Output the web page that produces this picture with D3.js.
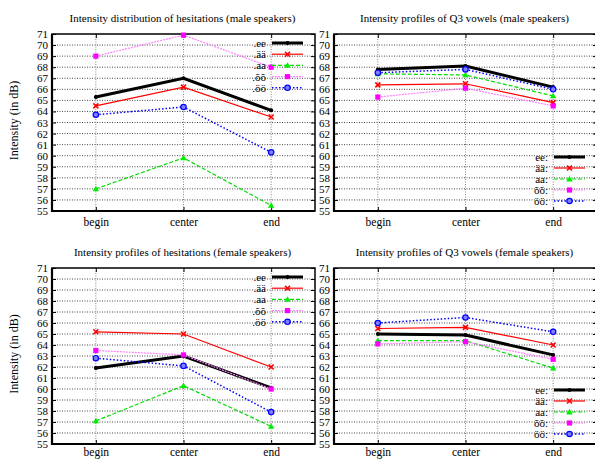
<!DOCTYPE html>
<html><head><meta charset="utf-8">
<script src="https://cdn.jsdelivr.net/npm/d3@7"></script>
<style>
html,body{margin:0;padding:0;background:#fff;}
svg{display:block;font-family:"Liberation Serif","DejaVu Serif",serif;}
</style></head>
<body><svg id="c" width="595" height="459"></svg>
<script>
const categories = ["begin", "center", "end"];
const yTicks = [55,56,57,58,59,60,61,62,63,64,65,66,67,68,69,70,71];
const hesLabels = [".ee", ".ää", ".aa", ".õõ", ".öö"];
const q3Labels = ["ee:", "ää:", "aa:", "õõ:", "öö:"];
const titles = [
  "Intensity distribution of hesitations (male speakers)",
  "Intensity profiles of Q3 vowels (male speakers)",
  "Intensity profiles of hesitations (female speakers)",
  "Intensity profiles of Q3 vowels (female speakers)"
];
// values per series (ee, ää, aa, õõ, öö) at begin/center/end
const maleHesitations = [
  [65.3, 67.0, 64.1],
  [64.5, 66.2, 63.5],
  [57.0, 59.8, 55.5],
  [69.0, 70.9, 68.0],
  [63.7, 64.4, 60.3]
];
const maleQ3 = [
  [67.8, 68.1, 66.2],
  [66.4, 66.5, 64.8],
  [67.4, 67.3, 65.4],
  [65.3, 66.1, 64.5],
  [67.5, 67.8, 66.0]
];
const femaleHesitations = [
  [61.9, 63.0, 60.1],
  [65.2, 65.0, 62.0],
  [57.1, 60.3, 56.6],
  [63.5, 63.1, 60.0],
  [62.8, 62.1, 57.9]
];
const femaleQ3 = [
  [65.0, 64.9, 63.1],
  [65.5, 65.6, 64.0],
  [64.4, 64.4, 61.9],
  [64.1, 64.3, 62.7],
  [66.0, 66.5, 65.2]
];

const styles = [
  {line:"#000000", mark:"#000000", w:3,   dash:null,  shape:"plus"},
  {line:"#ff0000", mark:"#ff0000", w:1.2, dash:null,  shape:"cross"},
  {line:"#00dd00", mark:"#00ee00", w:1.2, dash:"4,2", shape:"tri"},
  {line:"#ff80ff", mark:"#ff00ff", w:1.2, dash:"2,1", shape:"square"},
  {line:"#0000ff", mark:"#0000ff", w:1.5, dash:"1.5,2", shape:"circle"}
];

const svg = d3.select("#c");
const panels = [
  {x0:52,  x1:315, y0:34,  y1:211, data:maleHesitations,  labels:hesLabels, title:titles[0], ylab:true,  leg:"top",    xpad:7},
  {x0:334, x1:597, y0:34,  y1:211, data:maleQ3,           labels:q3Labels,  title:titles[1], ylab:false, leg:"bottom", xpad:7},
  {x0:52,  x1:315, y0:268, y1:444, data:femaleHesitations,labels:hesLabels, title:titles[2], ylab:true,  leg:"top",    xpad:4},
  {x0:334, x1:597, y0:268, y1:444, data:femaleQ3,         labels:q3Labels,  title:titles[3], ylab:false, leg:"bottom", xpad:4}
];

function marker(g, shape, cx, cy, col){
  if(shape==="plus"){
    g.append("circle").attr("cx",cx).attr("cy",cy).attr("r",2).attr("fill",col);
  } else if(shape==="cross"){
    const s=2.5;
    g.append("path").attr("d",`M${cx-s},${cy-s}L${cx+s},${cy+s}M${cx-s},${cy+s}L${cx+s},${cy-s}`)
      .attr("stroke",col).attr("stroke-width",1.6).attr("fill","none");
  } else if(shape==="tri"){
    const s=3.2;
    g.append("path").attr("d",`M${cx},${cy-s}L${cx+s},${cy+s*0.75}L${cx-s},${cy+s*0.75}Z`).attr("fill",col);
  } else if(shape==="square"){
    g.append("rect").attr("x",cx-2.6).attr("y",cy-2.6).attr("width",5.2).attr("height",5.2).attr("fill",col);
  } else if(shape==="circle"){
    g.append("circle").attr("cx",cx).attr("cy",cy).attr("r",2.7).attr("fill","#8080ff").attr("stroke",col).attr("stroke-width",1.2);
  }
}

panels.forEach(p=>{
  const x = d3.scalePoint().domain(categories).range([p.x0,p.x1]).padding(0.5);
  const y = d3.scaleLinear().domain([55,71]).range([p.y1,p.y0]);
  const g = svg.append("g");

  // horizontal grid
  g.selectAll(".hg").data(yTicks.slice(1,-1)).join("line")
    .attr("x1",p.x0).attr("x2",p.x1).attr("y1",d=>y(d)).attr("y2",d=>y(d))
    .attr("stroke","#333").attr("stroke-width",0.9).attr("stroke-dasharray","1,1.5");
  // vertical grid
  g.selectAll(".vg").data(categories).join("line")
    .attr("x1",d=>x(d)).attr("x2",d=>x(d)).attr("y1",p.y0).attr("y2",p.y1)
    .attr("stroke","#777").attr("stroke-width",0.9).attr("stroke-dasharray","1,1.5");

  // y axis
  const ya = g.append("g").attr("transform",`translate(${p.x0},0)`)
    .call(d3.axisLeft(y).tickValues(yTicks).tickFormat(d3.format("d")).tickSize(-4).tickPadding(4));
  ya.select(".domain").remove();
  ya.selectAll("line").attr("stroke","#000");
  ya.selectAll("text").attr("font-size",11).attr("font-family","Liberation Serif").attr("fill","#000");
  // mirror ticks on right
  const yr = g.append("g").attr("transform",`translate(${p.x1},0)`)
    .call(d3.axisRight(y).tickValues(yTicks).tickFormat("").tickSize(-4));
  yr.select(".domain").remove();
  // x axis
  const xa = g.append("g").attr("transform",`translate(0,${p.y1})`)
    .call(d3.axisBottom(x).tickSize(-4).tickPadding(p.xpad));
  xa.select(".domain").remove();
  xa.selectAll("text").attr("font-size",11.5).attr("font-family","Liberation Serif").attr("fill","#000");
  const xt = g.append("g").attr("transform",`translate(0,${p.y0})`)
    .call(d3.axisTop(x).tickFormat("").tickSize(-4));
  xt.select(".domain").remove();

  // frame
  g.append("rect").attr("x",p.x0).attr("y",p.y0).attr("width",p.x1-p.x0).attr("height",p.y1-p.y0)
    .attr("fill","none").attr("stroke","#000").attr("stroke-width",1.5);
  g.append("path").attr("d",`M${p.x0},${p.y0}V${p.y1}H${p.x1}`).attr("fill","none")
    .attr("stroke","#000").attr("stroke-width",2.2);

  // title
  g.append("text").attr("x",(p.x0+p.x1)/2 - 1).attr("y",p.y0-12)
    .attr("text-anchor","middle").attr("font-size",11).text(p.title);

  if(p.ylab){
    g.append("text").attr("transform",`translate(18,${(p.y0+p.y1)/2 - 2}) rotate(-90)`)
      .attr("text-anchor","middle").attr("font-size",12).text("Intensity (in dB)");
  }

  // series
  const line = d3.line().x((d,i)=>x(categories[i])).y(d=>y(d));
  p.data.forEach((vals,si)=>{
    const st = styles[si];
    g.append("path").attr("d",line(vals)).attr("fill","none")
      .attr("stroke",st.line).attr("stroke-width",st.w)
      .attr("stroke-dasharray",st.dash);
    vals.forEach((v,i)=>marker(g, st.shape, x(categories[i]), y(v), st.mark));
  });

  // legend
  p.labels.forEach((lab,si)=>{
    const st = styles[si];
    const ly = p.leg==="top" ? p.y0+9+si*11.2 : p.y1-54+si*11;
    const tx = p.x1-49, lx0 = p.x1-43, lx1 = p.x1-12;
    g.append("text").attr("x",tx).attr("y",ly+4).attr("text-anchor","end").attr("font-size",11).text(lab);
    g.append("line").attr("x1",lx0).attr("x2",lx1).attr("y1",ly).attr("y2",ly)
      .attr("stroke",st.line).attr("stroke-width",st.w).attr("stroke-dasharray",st.dash);
    marker(g, st.shape, (lx0+lx1)/2, ly, st.mark);
  });
});
</script></body></html>
